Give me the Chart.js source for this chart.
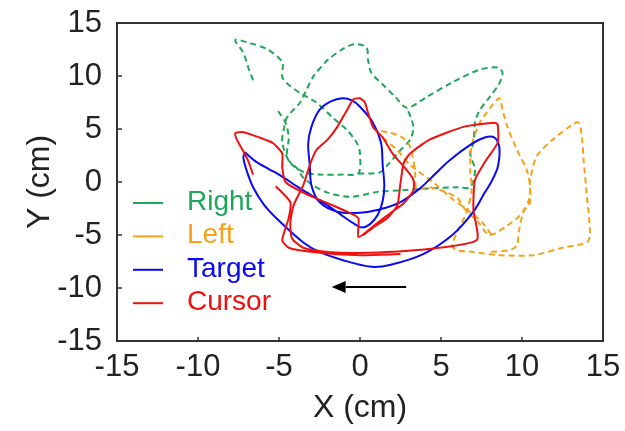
<!DOCTYPE html>
<html>
<head>
<meta charset="utf-8">
<script src="https://cdn.jsdelivr.net/npm/chart.js@4.4.1/dist/chart.umd.min.js"></script>
<style>
  html, body { margin: 0; padding: 0; background: #fff; }
</style>
</head>
<body>
<canvas id="trajChart" width="625" height="431"></canvas>
<script>
// axis range (cm)
const axisMin = -15, axisMax = 15, axisStep = 5;

// null = pen lifted (gap in the trace)
const rightX = [-6.6,-6.9,-7.2,-7.7,-6.8,-5.7,-4.8,-4.8,-4.5,-3.7,-2.7,-1.7,-0.8,-0.2,0.0,-0.1,-1.0,-2.5,-3.4,-4.3,-4.8,-4.7,-4.5,-3.7,-3.3,-2.9,-2.0,-1.0,-0.3,0.4,0.5,0.7,1.4,2.2,2.9,4.1,5.7,7.4,8.5,8.8,8.6,8.0,7.4,7.1,7.0,6.8,7.1,6.8,6.0,4.3,2.5,1.2,-0.6,-2.0,-2.9,-3.5,-3.9,-4.5,-4.4,-4.6,-5.1,
  null,-0.1,1.2,1.7,2.5,3.1,3.3,3.2,2.9];
const rightY = [9.6,10.8,12.2,13.4,13.1,12.5,11.3,9.9,9.3,8.4,7.5,6.1,4.9,3.7,2.7,0.8,0.7,0.7,0.9,1.8,3.7,5.0,6.1,7.5,8.7,9.9,11.5,12.6,13.0,12.7,11.5,10.3,9.2,8.0,7.0,8.0,9.4,10.6,10.8,10.3,9.3,8.0,6.8,5.6,3.7,2.7,1.1,-0.5,-0.5,-0.6,-0.8,-0.9,-1.4,-1.0,-0.3,0.4,1.3,2.3,4.2,5.6,6.8,
  null,0.8,0.9,1.6,3.0,4.0,5.1,5.8,7.0];

const leftX = [1.3,2.0,2.6,3.0,3.2,3.4,3.5,4.3,5.2,6.0,6.5,7.3,8.0,9.1,9.9,10.4,10.5,10.3,9.7,9.1,8.8,8.6,7.8,7.4,6.9,6.8,6.9,6.6,6.2,5.7,5.9,7.0,8.6,10.7,12.5,14.0,14.2,14.0,13.8,13.7,13.5,13.1,11.9,10.9,10.5,10.5,10.1,9.8,9.7,9.3,8.0,
  null,1.4,2.3,3.1,4.5,5.7,6.6,7.6,8.2];
const leftY = [4.8,4.6,4.2,3.6,2.7,1.1,-0.6,-0.5,-0.9,-1.5,-2.6,-3.8,-5.0,-4.1,-3.1,-1.8,-0.5,1.1,3.0,5.2,6.8,7.9,6.5,5.6,3.5,1.0,-0.6,-2.8,-4.1,-5.9,-6.4,-6.6,-6.9,-6.9,-6.2,-5.7,-5.0,-1.2,2.1,4.2,5.6,5.4,4.0,2.4,0.0,-1.9,-2.8,-4.7,-5.9,-6.4,-6.6,
  null,4.2,3.0,1.6,0.0,-1.6,-2.6,-3.9,-5.2];

const targetX = [-7.1,-6.4,-5.6,-4.9,-3.7,-2.0,-0.9,-0.3,0.1,0.6,1.1,1.4,1.5,1.4,1.3,0.8,0.0,-0.5,-1.1,-1.8,-2.5,-3.0,-3.2,-3.1,-3.0,-2.5,-1.4,0.0,1.2,2.5,3.7,4.4,5.5,6.8,7.7,8.3,8.6,8.5,8.1,7.7,7.0,5.7,3.9,1.9,0.7,-1.0,-2.5,-3.5,-4.9,-5.9,-6.6,-7.0,-7.2,-7.1];
const targetY = [2.8,1.9,1.2,0.6,-0.6,-2.2,-3.4,-4.0,-4.3,-4.0,-3.1,-1.8,-0.3,1.6,3.7,5.6,7.1,7.7,7.9,7.6,6.8,5.2,3.6,1.6,-0.3,-1.9,-2.8,-2.9,-2.6,-1.9,-0.6,0.4,2.0,3.5,4.2,4.2,3.3,1.4,0.0,-1.0,-2.8,-5.0,-6.8,-7.8,-8.0,-7.4,-6.6,-5.7,-3.8,-2.2,-0.5,1.1,2.3,2.8];

const cursorX = [-6.6,-6.9,-7.2,-7.6,-7.7,-7.2,-6.2,-5.4,-4.8,-4.8,-4.6,-3.5,-2.0,-0.8,-0.1,-0.1,0.8,1.9,2.7,3.3,3.3,2.9,2.0,1.4,0.8,0.5,0.3,0.0,-0.4,-0.8,-1.4,-2.0,-2.7,-3.1,-3.5,-4.1,-4.3,-4.2,-3.5,-2.0,0.0,3.7,7.2,7.0,7.1,7.8,8.5,8.5,8.3,6.4,4.3,3.1,2.7,2.5,2.3,1.7,0.8,0.2,
  null,-5.2,-4.3,-4.4,-4.8,-4.4,-2.9,0.0,2.5];
const cursorY = [0.7,2.0,2.9,4.0,4.6,4.7,4.2,3.7,2.7,1.4,0.0,-1.0,-2.0,-2.8,-3.4,-5.2,-4.2,-2.9,-2.0,-0.8,0.2,1.1,2.7,4.2,5.2,6.5,7.5,7.9,7.8,6.8,5.2,4.0,3.0,1.6,-0.3,-2.2,-3.8,-5.3,-6.2,-6.6,-6.7,-6.4,-5.5,-2.6,0.2,2.1,3.7,5.4,5.6,5.2,4.0,2.7,1.8,-0.1,-2.2,-3.4,-4.3,-5.0,
  null,-0.4,-1.9,-3.4,-5.5,-6.2,-6.6,-6.9,-6.8];

// direction arrow (data units)
const arrowX = [2.85, -1.75];
const arrowY = [-9.9, -9.9];

const FONT = "'Liberation Sans', Arial, sans-serif";

function toPoints(xs, ys) {
  return xs.map((x, i) => (x === null ? { x: null, y: null } : { x: x, y: ys[i] }));
}

// frame + inward ticks
const framePlugin = {
  id: 'frame',
  afterDraw(chart) {
    const { ctx, chartArea: a, scales } = chart;
    ctx.save();
    ctx.setLineDash([]);
    ctx.strokeStyle = '#333';
    ctx.lineWidth = 1.5;
    scales.x.ticks.forEach(t => {
      const px = scales.x.getPixelForValue(t.value);
      ctx.beginPath(); ctx.moveTo(px, a.bottom); ctx.lineTo(px, a.bottom - 4); ctx.stroke();
    });
    scales.y.ticks.forEach(t => {
      const py = scales.y.getPixelForValue(t.value);
      ctx.beginPath(); ctx.moveTo(a.left, py); ctx.lineTo(a.left + 5, py); ctx.stroke();
    });
    ctx.lineWidth = 2;
    ctx.strokeRect(a.left, a.top, a.right - a.left, a.bottom - a.top);
    ctx.restore();
  }
};

const arrowPlugin = {
  id: 'arrow',
  afterDraw(chart) {
    const { ctx, scales } = chart;
    const x0 = scales.x.getPixelForValue(arrowX[0]);
    const x1 = scales.x.getPixelForValue(arrowX[1]);
    const y0 = scales.y.getPixelForValue(arrowY[0]);
    const y1 = scales.y.getPixelForValue(arrowY[1]);
    const head = 14;
    ctx.save();
    ctx.strokeStyle = '#000';
    ctx.fillStyle = '#000';
    ctx.lineWidth = 2;
    ctx.beginPath(); ctx.moveTo(x0, y0); ctx.lineTo(x1 + head, y1); ctx.stroke();
    ctx.beginPath();
    ctx.moveTo(x1, y1);
    ctx.lineTo(x1 + head, y1 - 6);
    ctx.lineTo(x1 + head, y1 + 6);
    ctx.closePath();
    ctx.fill();
    ctx.restore();
  }
};

// legend sits inside the axes, lower left
const legendPlugin = {
  id: 'insideLegend',
  afterDraw(chart) {
    const { ctx, chartArea: a } = chart;
    ctx.save();
    ctx.font = '28px ' + FONT;
    ctx.textBaseline = 'middle';
    ctx.textAlign = 'left';
    chart.data.datasets.forEach((ds, i) => {
      const y = a.top + 180 + i * 33.4;
      ctx.setLineDash([]);
      ctx.strokeStyle = ds.borderColor;
      ctx.lineWidth = 2;
      ctx.beginPath(); ctx.moveTo(a.left + 16, y); ctx.lineTo(a.left + 46, y); ctx.stroke();
      ctx.fillStyle = ds.borderColor;
      ctx.fillText(ds.label, a.left + 70, y - 1);
    });
    ctx.restore();
  }
};

const ctx = document.getElementById('trajChart').getContext('2d');
new Chart(ctx, {
  type: 'scatter',
  data: {
    datasets: [
      { label: 'Right', data: toPoints(rightX, rightY), borderColor: '#1fa65a', borderDash: [6, 4], order: 3 },
      { label: 'Left', data: toPoints(leftX, leftY), borderColor: '#f7a11a', borderDash: [6, 4], order: 2 },
      { label: 'Target', data: toPoints(targetX, targetY), borderColor: '#0a0af0', order: 1 },
      { label: 'Cursor', data: toPoints(cursorX, cursorY), borderColor: '#f01010', tension: 0.2, order: 0 }
    ]
  },
  options: {
    responsive: false,
    animation: false,
    showLine: true,
    spanGaps: false,
    layout: { padding: { top: 23, right: 22, left: 0, bottom: 0 } },
    elements: {
      point: { radius: 0, hoverRadius: 0 },
      line: { borderWidth: 2, tension: 0.3, fill: false }
    },
    plugins: { legend: { display: false }, tooltip: { enabled: false } },
    scales: {
      x: {
        type: 'linear', min: axisMin, max: axisMax,
        grid: { display: false, drawTicks: false },
        border: { display: false },
        ticks: { stepSize: axisStep, padding: 8, color: '#222', font: { family: FONT, size: 31 }, maxRotation: 0 },
        title: { display: true, text: 'X (cm)', color: '#222', font: { family: FONT, size: 32 }, padding: { top: 0, bottom: 4 } },
        afterFit(scale) {
          scale.height = 90;
          scale.paddingLeft = 0;
          scale.paddingRight = 0;
        }
      },
      y: {
        type: 'linear', min: axisMin, max: axisMax,
        grid: { display: false, drawTicks: false },
        border: { display: false },
        ticks: { stepSize: axisStep, padding: 15, color: '#222', font: { family: FONT, size: 31 } },
        title: { display: true, text: 'Y (cm)', color: '#222', font: { family: FONT, size: 32 }, padding: { top: 21, bottom: 0 } },
        afterFit(scale) {
          scale.width = 117;
          scale.paddingTop = 0;
          scale.paddingBottom = 0;
        }
      }
    }
  },
  plugins: [framePlugin, arrowPlugin, legendPlugin]
});
</script>
</body>
</html>
